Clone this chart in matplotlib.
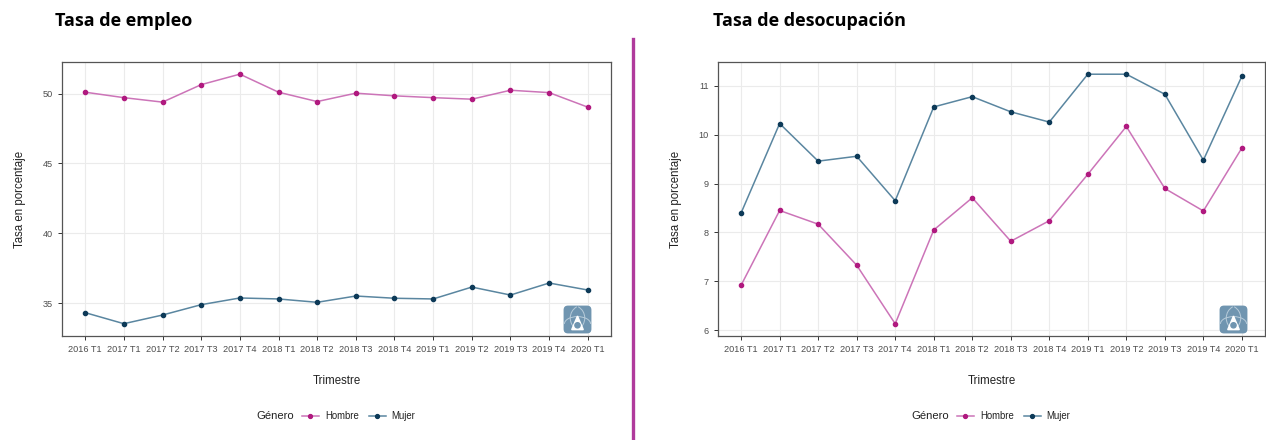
import matplotlib
matplotlib.use("Agg")
import matplotlib.pyplot as plt
from matplotlib.patches import FancyBboxPatch, Circle, Arc
from matplotlib.lines import Line2D

plt.rcParams['font.family'] = ['Liberation Sans', 'DejaVu Sans']

trimestres = ["2016 T1", "2017 T1", "2017 T2", "2017 T3", "2017 T4", "2018 T1", "2018 T2",
              "2018 T3", "2018 T4", "2019 T1", "2019 T2", "2019 T3", "2019 T4", "2020 T1"]

empleo_hombre = [50.10, 49.71, 49.39, 50.64, 51.39, 50.10, 49.43,
                 50.03, 49.84, 49.71, 49.60, 50.24, 50.07, 49.03]
empleo_mujer = [34.33, 33.54, 34.16, 34.90, 35.38, 35.31, 35.07,
                35.52, 35.36, 35.31, 36.16, 35.59, 36.45, 35.95]

desoc_hombre = [6.92, 8.45, 8.17, 7.33, 6.13, 8.05, 8.71,
                7.82, 8.24, 9.19, 10.17, 8.90, 8.44, 9.73]
desoc_mujer = [8.40, 10.23, 9.46, 9.56, 8.65, 10.57, 10.78,
               10.47, 10.26, 11.24, 11.24, 10.83, 9.48, 11.20]

titulos = ["Tasa de empleo", "Tasa de desocupación"]
generos = ["Hombre", "Mujer"]
yticks_empleo = [35, 40, 45, 50]
yticks_desoc = [6, 7, 8, 9, 10, 11]

C_H_LINE = "#CC74B8"
C_H_PT = "#B0197F"
C_M_LINE = "#5A86A0"
C_M_PT = "#0D3A58"

W, H = 1266, 440
fig = plt.figure(figsize=(W / 100, H / 100), dpi=100)


def fx(px):
    return px / W


def fy(py):
    return 1 - py / H


def legend_key(x0, x1, y, lc, pc):
    fig.add_artist(Line2D([fx(x0), fx(x1)], [fy(y), fy(y)], color=lc, lw=1.1))
    fig.add_artist(Line2D([fx((x0 + x1) / 2)], [fy(y)], marker='o', markersize=2.8,
                          color=pc, markeredgecolor=pc, linestyle='none'))


def panel(left, right, top, bottom, hombre, mujer, yticks, ylim, title, title_x, logo):
    ax = fig.add_axes([fx(left), fy(bottom), fx(right - left), fy(top) - fy(bottom)])
    x = list(range(len(trimestres)))
    ax.plot(x, hombre, color=C_H_LINE, lw=1.1, zorder=3)
    ax.scatter(x, hombre, color=C_H_PT, s=9, zorder=4)
    ax.plot(x, mujer, color=C_M_LINE, lw=1.1, zorder=3)
    ax.scatter(x, mujer, color=C_M_PT, s=9, zorder=4)
    ax.set_xlim(-0.6, len(trimestres) - 1 + 0.6)
    ax.set_ylim(*ylim)
    ax.set_xticks(x)
    ax.set_xticklabels(trimestres)
    ax.set_yticks(yticks)
    ax.grid(True, color="#EBEBEB", lw=0.8, zorder=0)
    ax.set_axisbelow(True)
    for s in ax.spines.values():
        s.set_color("#555555")
        s.set_linewidth(0.9)
    ax.tick_params(axis='both', colors="#333333", labelsize=6.6, length=3, width=0.7,
                   labelcolor="#4D4D4D")
    ax.set_ylabel("Tasa en porcentaje", fontsize=8.3, color="#222222", labelpad=12)
    ax.set_xlabel("Trimestre", fontsize=8.3, color="#222222", labelpad=15)
    fig.text(fx(title_x), fy(21), title, fontsize=13, fontweight='bold',
             family=['Open Sans', 'DejaVu Sans'], va='center', ha='left', color='black')
    # legend (drawn by hand, ggplot-style horizontal)
    c = (left + right) / 2
    ly = 416
    fig.text(fx(c - 80), fy(ly), "Género", fontsize=8.1, color="#222222", ha='left', va='center')
    legend_key(c - 35, c - 18, ly, C_H_LINE, C_H_PT)
    fig.text(fx(c - 11), fy(ly), generos[0], fontsize=6.9, color="#222222", ha='left', va='center')
    legend_key(c + 32, c + 49, ly, C_M_LINE, C_M_PT)
    fig.text(fx(c + 55), fy(ly), generos[1], fontsize=6.9, color="#222222", ha='left', va='center')
    # logo
    lx0, lx1, ly0, ly1 = logo
    lax = fig.add_axes([fx(lx0), fy(ly1), fx(lx1 - lx0), fy(ly0) - fy(ly1)])
    lax.set_xlim(0, 1)
    lax.set_ylim(0, 1)
    lax.axis('off')
    lax.add_patch(FancyBboxPatch((0.02, 0.02), 0.96, 0.96, boxstyle="round,pad=0,rounding_size=0.15",
                                 facecolor="#7095B0", edgecolor="none"))
    lax.add_patch(Arc((0.3, 0.55), 0.9, 0.9, theta1=-60, theta2=60, color="#B8CCDA", lw=0.7))
    lax.add_patch(Arc((0.7, 0.55), 0.9, 0.9, theta1=120, theta2=240, color="#B8CCDA", lw=0.7))
    lax.add_patch(Arc((0.5, 0.35), 0.9, 0.5, theta1=0, theta2=180, color="#B8CCDA", lw=0.7))
    lax.fill([0.3, 0.5, 0.7, 0.62, 0.38], [0.15, 0.62, 0.15, 0.15, 0.15], color="white")
    lax.add_patch(Circle((0.5, 0.3), 0.09, color="#7095B0"))
    return ax


panel(62, 611, 62, 336, empleo_hombre, empleo_mujer, yticks_empleo, (32.66, 52.26),
      titulos[0], 55, (563, 592, 305, 334))
panel(718, 1265, 62, 336, desoc_hombre, desoc_mujer, yticks_desoc, (5.88, 11.49),
      titulos[1], 713, (1219, 1248, 305, 334))

fig.add_artist(Line2D([fx(633), fx(633)], [fy(39), fy(440)], color="#B03A9C", lw=2.4))

fig.savefig("out.png", dpi=100, facecolor="white")
